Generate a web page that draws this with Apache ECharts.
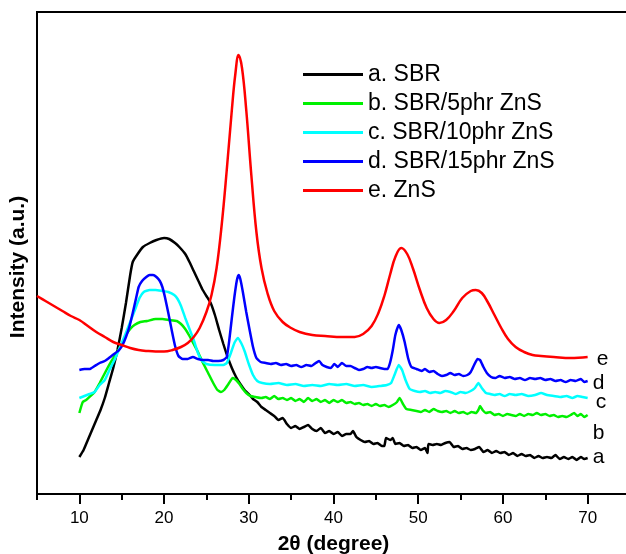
<!DOCTYPE html>
<html>
<head>
    <title>XRD SBR / ZnS</title>
    <script src="https://cdn.jsdelivr.net/npm/echarts@6/dist/echarts.min.js"></script>
</head>
<body style="margin:0">
    <div id="myChart" style="width: 626px;height:554px;"></div>
    <script>
        // [2θ, intensity]
        var sbr = [[10,37],[10.5,44],[11,54],[11.5,64],[12,74],[12.5,84],[13,96],[13.5,111],[14,126],[14.5,144],[15,166],[15.5,191],[16,219],[16.3,232],[16.8,239],[17.5,247],[18.3,251],[19.1,254],[20,256],[20.6,255],[21.3,251],[21.8,247],[22.5,240],[23,232],[23.5,223],[24,214],[24.5,205],[25,198],[25.5,191],[26,179],[26.5,164],[27,150],[27.5,137],[28,126],[28.5,117],[29,110],[29.5,104],[30,100],[30.5,95],[31,92],[31.5,87],[32,84],[32.5,81],[33,78],[33.5,74],[34,76],[34.5,70],[35,66],[35.5,68],[36,65],[36.5,67],[37,69],[37.5,65],[38,63],[38.5,66],[39,61],[39.5,63],[40,60],[40.5,62],[41,58],[41.5,60],[42,60],[42.3,63],[42.7,57],[43.2,54],[43.7,52],[44.2,53],[44.7,50],[45.2,51],[45.7,48],[46,48],[46.2,56],[46.7,54],[47,56],[47.3,50],[47.8,51],[48.3,48],[48.8,49],[49.3,46],[49.8,47],[50.3,44],[50.8,46],[51.1,41],[51.2,50],[51.7,49],[52.2,50],[52.7,49],[53.2,51],[53.7,52],[54.2,47],[54.7,48],[55.2,45],[55.7,46],[56.2,44],[56.7,45],[57.2,47],[57.7,42],[58.2,44],[58.7,41],[59.2,43],[59.7,41],[60.2,42],[60.7,39],[61.2,41],[61.7,38],[62.2,40],[62.7,38],[63.2,39],[63.7,36],[64.2,38],[64.7,36],[65.2,37],[65.7,36],[66.2,39],[66.7,35],[67.2,37],[67.7,35],[68.2,37],[68.7,34],[69.2,37],[69.6,35],[70,36]];

        var zns5 = [[10,81],[10.4,92],[10.8,94],[11.3,98],[11.8,102],[12.4,111],[13.2,124],[13.8,133],[14.4,141],[15,150],[15.5,159],[16,165],[16.5,169],[17.2,172],[18,173],[19,175],[19.8,175],[20.6,174],[21.5,173],[22,170],[22.5,165],[23,158],[23.5,150],[24,142],[24.6,131],[25.2,121],[25.8,111],[26.3,104],[26.7,102],[27.1,104],[27.6,110],[28.1,116],[28.5,114],[28.9,110],[29.3,105],[29.7,101],[30.2,98],[30.8,97],[31.5,96],[32,97],[32.5,95],[33,98],[33.5,95],[34,96],[34.5,94],[35,96],[35.5,93],[36,95],[36.5,92],[37,96],[37.5,93],[38,95],[38.5,92],[39,94],[39.5,91],[40,94],[40.5,92],[41,94],[41.5,91],[42,92],[42.5,90],[43,91],[43.5,89],[44,90],[44.5,88],[45,90],[45.5,88],[46,89],[46.5,87],[47,89],[47.5,92],[47.8,96],[48.2,90],[48.6,85],[49.2,84],[49.8,83],[50.3,82],[50.8,84],[51.3,82],[51.8,85],[52.3,83],[52.8,82],[53.3,83],[53.8,81],[54.3,83],[54.8,81],[55.3,82],[55.8,80],[56.3,82],[56.8,81],[57.1,84],[57.3,88],[57.6,84],[58,81],[58.5,82],[59,79],[59.5,80],[60,78],[60.5,80],[61,79],[61.5,78],[62,80],[62.5,78],[63,80],[63.5,79],[64,81],[64.5,79],[65,80],[65.5,78],[66,79],[66.5,77],[67,78],[67.5,77],[68,79],[68.4,81],[68.8,78],[69.2,80],[69.6,77],[70,79]];

        var zns10 = [[10,96],[10.6,98],[11.2,100],[11.8,102],[12.4,109],[13,114],[13.6,125],[14.2,135],[14.8,147],[15.4,159],[16,172],[16.6,185],[17.1,196],[17.6,202],[18.3,204],[19,204],[19.8,203],[20.5,202],[21.2,199],[21.6,195],[22,188],[22.5,176],[23,165],[23.5,154],[24,141],[24.4,134],[25,130],[26,129],[27,129],[27.4,131],[27.8,139],[28.3,151],[28.7,156],[29.1,151],[29.5,143],[30,130],[30.5,119],[31,113],[31.6,111],[32.5,110],[33.5,111],[34.5,109],[35.5,110],[36.5,108],[37.5,109],[38.5,108],[39.5,110],[40.5,109],[41.5,110],[42.5,108],[43.5,109],[44.5,107],[45.5,108],[46.3,109],[46.8,111],[47.2,119],[47.7,129],[48.1,124],[48.5,114],[49,105],[49.6,103],[50.2,102],[50.8,103],[51.4,101],[52,102],[52.6,101],[53.2,103],[53.8,102],[54.4,100],[55,102],[55.6,101],[56.2,103],[56.7,106],[57.1,111],[57.5,106],[58,101],[58.5,100],[59,99],[59.6,100],[60.2,98],[60.8,100],[61.5,99],[62.2,100],[63,98],[63.8,99],[64.5,101],[65.2,99],[66,98],[66.8,97],[67.5,98],[68.2,96],[68.8,98],[69.4,97],[70,96]];

        var zns15 = [[10,124],[10.6,125],[11.2,125],[11.8,128],[12.4,131],[13,133],[13.5,136],[14.1,140],[14.7,144],[15.1,149],[15.5,157],[15.9,167],[16.3,181],[16.7,196],[17,207],[17.4,213],[17.9,217],[18.3,219],[18.7,219],[19.1,217],[19.5,213],[19.8,207],[20.1,197],[20.5,181],[20.9,164],[21.3,148],[21.7,138],[22.2,135],[22.8,135],[23.4,137],[24,135],[24.6,134],[25.2,134],[25.8,133],[26.4,133],[27,134],[27.4,137],[27.7,154],[28,176],[28.3,197],[28.6,214],[28.8,219],[29,215],[29.3,202],[29.7,182],[30.1,164],[30.5,147],[30.9,136],[31.4,132],[32,131],[32.6,130],[33.2,131],[33.8,129],[34.4,130],[35,128],[35.6,129],[36.2,127],[36.8,129],[37.4,128],[37.9,131],[38.3,133],[38.7,129],[39.2,127],[39.7,126],[40.1,130],[40.5,127],[41,131],[41.5,128],[42,128],[42.5,126],[43,124],[43.5,125],[44,127],[44.5,126],[45,127],[45.5,126],[46,125],[46.4,125],[46.7,132],[47,144],[47.3,159],[47.7,169],[48,164],[48.4,152],[48.8,136],[49.2,127],[49.8,125],[50.4,123],[50.8,125],[51.3,122],[51.8,123],[52.3,120],[52.8,118],[53.3,119],[53.8,121],[54.3,119],[54.8,120],[55.3,118],[55.8,119],[56.2,122],[56.6,129],[57,135],[57.3,134],[57.7,127],[58.1,121],[58.6,117],[59.1,116],[59.6,118],[60.2,116],[60.8,117],[61.4,115],[62,116],[62.6,114],[63.2,116],[63.8,115],[64.4,116],[65,114],[65.6,115],[66.2,113],[66.8,114],[67.4,112],[68,114],[68.6,113],[69.2,115],[69.6,112],[70,113]];

        var zns = [[5,198],[6,193],[7,188],[8,183],[9,178],[10,174],[11,168],[12,162],[13,157],[14,152],[15,149],[16,146],[17,144],[18,143],[19,142.5],[20,142.5],[21,144],[22,147],[22.8,151],[23.5,157],[24.2,166],[25,182],[25.6,199],[26.2,226],[26.8,269],[27.4,324],[28,384],[28.4,419],[28.8,439],[29.2,426],[29.7,384],[30.3,319],[30.9,262],[31.5,226],[32.2,201],[33,183],[34,172],[35,166],[36,162],[37.5,159],[39,158],[41,157],[42.5,157],[43.5,160],[44.5,168],[45.3,181],[46,198],[46.7,220],[47.3,237],[48,246],[48.7,240],[49.4,225],[50.2,204],[51,186],[51.8,175],[52.5,171],[53.3,174],[54.2,183],[55.2,196],[56.2,203],[56.8,204],[57.5,201],[58.2,192],[59,179],[59.8,166],[60.6,155],[61.5,147],[62.5,142],[63.5,139],[64.5,138],[66,137],[68,136],[70,137]];

        var names = ['a. SBR', 'b. SBR/5phr ZnS', 'c. SBR/10phr ZnS', 'd. SBR/15phr ZnS', 'e. ZnS'];
        var endTags = ['a', 'b', 'c', 'd', 'e'];
        var majorTicks = [10, 20, 30, 40, 50, 60, 70];
        var minorTicks = [5, 15, 25, 35, 45, 55, 65, 75];

        var colors = ['#000000', '#00f000', '#00ffff', '#0000ff', '#ff0000'];
        var tagOffsets = [[0, -1], [0, 18], [3, 4], [0, 2], [4, 2]];
        var allData = [sbr, zns5, zns10, zns15, zns];
        var font = 'Liberation Sans, Arial, sans-serif';

        var myChart = echarts.init(document.getElementById('myChart'));

        var series = allData.map(function (d, i) {
            return {
                name: names[i],
                type: 'line',
                data: d,
                symbol: 'none',
                smooth: i === 4 ? 0.4 : 0.15,
                lineStyle: { color: colors[i], width: 2.5 },
                itemStyle: { color: colors[i] },
                endLabel: {
                    show: true,
                    formatter: endTags[i],
                    color: '#000',
                    fontSize: 21,
                    fontFamily: font,
                    distance: 5,
                    offset: tagOffsets[i]
                }
            };
        });

        var option = {
            animation: false,
            grid: {
                left: 37, right: -4, top: 12, bottom: 60,
                outerBoundsMode: 'none',
                containLabel: false,
                show: true, borderColor: '#000', borderWidth: 2
            },
            legend: {
                orient: 'vertical',
                left: 303,
                top: 63,
                padding: 0,
                icon: 'rect',
                itemWidth: 60,
                itemHeight: 3,
                itemGap: 6,
                data: names,
                textStyle: { fontSize: 23, fontFamily: font, color: '#000', lineHeight: 23 }
            },
            xAxis: [{
                type: 'value',
                min: 5, max: 75,
                name: '2θ (degree)',
                nameLocation: 'middle',
                nameGap: 40,
                nameTextStyle: { fontSize: 21, fontWeight: 'bold', fontFamily: font, color: '#000' },
                axisLine: { lineStyle: { color: '#000', width: 2 } },
                axisTick: { show: true, length: 10, customValues: majorTicks, lineStyle: { color: '#000', width: 2 } },
                axisLabel: { customValues: majorTicks, fontSize: 17, fontFamily: font, color: '#000', margin: 16 },
                splitLine: { show: false }
            }, {
                type: 'value',
                position: 'bottom',
                min: 5, max: 75,
                axisLine: { show: false },
                axisTick: { show: true, length: 6, customValues: minorTicks, lineStyle: { color: '#000', width: 2 } },
                axisLabel: { show: false },
                splitLine: { show: false }
            }],
            yAxis: {
                type: 'value',
                min: 0, max: 482,
                axisLine: { show: true, lineStyle: { color: '#000', width: 2 } },
                axisTick: { show: false },
                axisLabel: { show: false },
                splitLine: { show: false }
            },
            graphic: [{
                type: 'text',
                x: 18, y: 267,
                rotation: Math.PI / 2,
                style: {
                    text: 'Intensity (a.u.)',
                    fontSize: 21, fontWeight: 'bold', fontFamily: font, fill: '#000',
                    align: 'center', verticalAlign: 'middle'
                }
            }],
            series: series
        };
        myChart.setOption(option);
    </script>
</body>
</html>
